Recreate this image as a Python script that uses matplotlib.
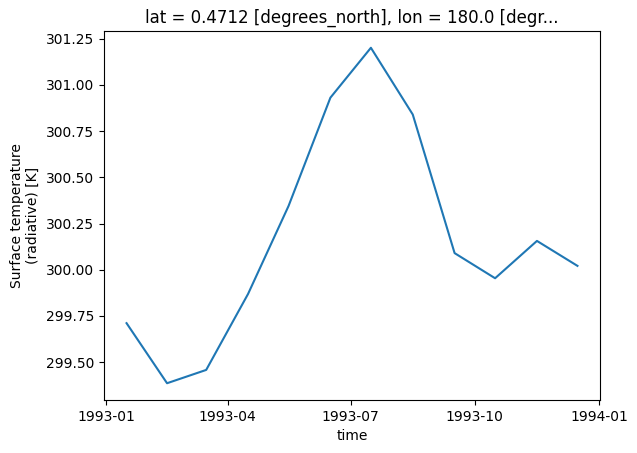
import numpy as np
import pandas as pd
import matplotlib
matplotlib.use("Agg")
import matplotlib.pyplot as plt
import matplotlib.dates as mdates

# monthly means, 1993 (mid-month timestamps)
dates = pd.to_datetime(["1993-01-16", "1993-02-15", "1993-03-16", "1993-04-16",
                        "1993-05-16", "1993-06-16", "1993-07-16", "1993-08-16",
                        "1993-09-16", "1993-10-16", "1993-11-16", "1993-12-16"])
temps = [299.711, 299.386, 299.458, 299.869, 300.345, 300.931,
         301.201, 300.840, 300.090, 299.954, 300.156, 300.021]

fig = plt.figure(figsize=(6.37, 4.53), dpi=100)
ax = fig.add_axes([104/637, 53/453, 496/637, 369/453])
ax.plot(dates, temps)
ax.xaxis.set_major_locator(mdates.MonthLocator(bymonth=[1, 4, 7, 10]))
ax.xaxis.set_major_formatter(mdates.DateFormatter('%Y-%m'))
ax.set_xlabel('time')
ax.set_ylabel('Surface temperature\n(radiative) [K]')
ax.set_title('lat = 0.4712 [degrees_north], lon = 180.0 [degr...')
fig.savefig('out.png', dpi=100)
